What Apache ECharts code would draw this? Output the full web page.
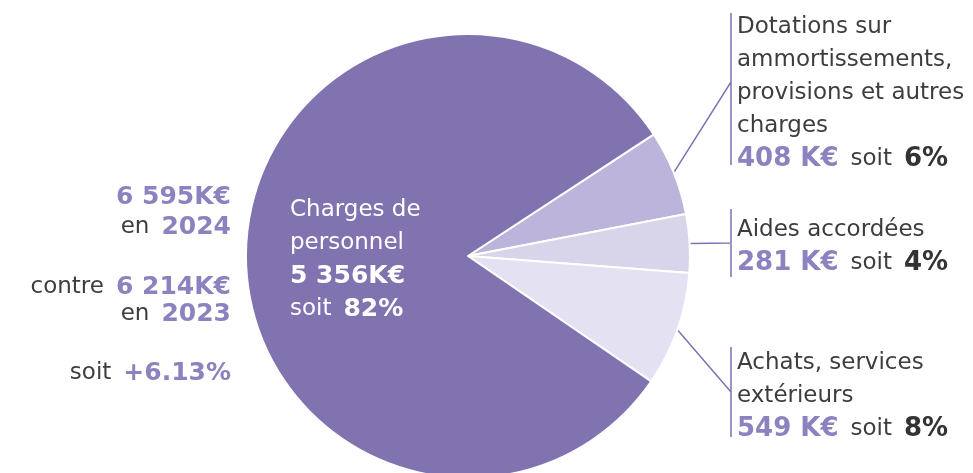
<!DOCTYPE html>
<html>
<head>
<meta charset="utf-8">
<style>
  html, body { margin: 0; padding: 0; background: #fff; }
  #chart { width: 973px; height: 473px; }
</style>
<script src="https://cdn.jsdelivr.net/npm/echarts@6/dist/echarts.min.js"></script>
</head>
<body>
<div id="chart"></div>
<script>
// ---- data ----
const categories = ['Dotations sur ammortissements, provisions et autres charges', 'Aides accordées', 'Achats, services extérieurs', 'Charges de personnel'];
const labelLines = [
  ['Dotations sur', 'ammortissements,', 'provisions et autres', 'charges'],
  ['Aides accordées'],
  ['Achats, services', 'extérieurs'],
  ['Charges de', 'personnel']
];
const values = [408, 281, 549, 5356];          // K€
const valueLabels = ['408 K€', '281 K€', '549 K€', '5 356K€'];
const percentLabels = ['6%', '4%', '8%', '82%'];
const sliceColors = ['#BCB4DA', '#D8D4EA', '#E4E1F2', '#8073B0'];

const total2024 = '6 595K€';
const year2024 = '2024';
const total2023 = '6 214K€';
const year2023 = '2023';
const evolution = '+6.13%';

// ---- styles ----
const FONT = '"DejaVu Sans", sans-serif';
const DARK = '#3d3d3d';
const PURPLE_TXT = '#8C82C0';
const LINE_COL = '#7F72B6';
const LH = 33;
const SP = '\u00a0';

const outsideRich = {
  t: { fontFamily: FONT, fontSize: 23, color: DARK, lineHeight: LH },
  s: { fontFamily: FONT, fontSize: 23, color: DARK, lineHeight: LH, width: 12 },
  v: { fontFamily: FONT, fontSize: 26, fontWeight: 'bold', color: PURPLE_TXT, lineHeight: LH },
  p: { fontFamily: FONT, fontSize: 26, fontWeight: 'bold', color: '#333', lineHeight: LH }
};
const insideRich = {
  t: { fontFamily: FONT, fontSize: 23, color: '#fff', lineHeight: LH },
  s: { fontFamily: FONT, fontSize: 23, color: '#fff', lineHeight: LH, width: 12 },
  v: { fontFamily: FONT, fontSize: 25, fontWeight: 'bold', color: '#fff', lineHeight: LH },
  p: { fontFamily: FONT, fontSize: 25, fontWeight: 'bold', color: '#fff', lineHeight: LH }
};

const labelTops = [10.5, 213.5, 346.5, 193.5];
const labelX = [737, 737, 737, 290];
const barX = 731;
const barSpans = [[13, 165, 82], [209, 277, 243], [347, 437, 392]];

const pieData = values.map((v, i) => {
  const big = i === 3;
  return {
    name: categories[i],
    value: v,
    itemStyle: { color: sliceColors[i] },
    label: { rich: big ? insideRich : outsideRich },
    labelLine: { show: !big }
  };
});

function fmt(params) {
  const i = params.dataIndex;
  const lines = labelLines[i].map(l => '{t|' + l + '}');
  if (i === 3) {
    lines.push('{v|' + valueLabels[i] + '}');
    lines.push('{t|soit}{s| }{p|' + percentLabels[i] + '}');
  } else {
    lines.push('{v|' + valueLabels[i] + '}{s| }{t|soit}{s| }{p|' + percentLabels[i] + '}');
  }
  return lines.join('\n');
}

const chart = echarts.init(document.getElementById('chart'), null, { renderer: 'canvas' });

function textEl(right, cy, parts) {
  return {
    type: 'text',
    x: right, y: cy,
    style: {
      text: parts,
      align: 'right', verticalAlign: 'middle',
      rich: {
        t: { fontFamily: FONT, fontSize: 23, fill: DARK },
        s: { fontFamily: FONT, fontSize: 23, fill: DARK, width: 12 },
        v: { fontFamily: FONT, fontSize: 25, fontWeight: 'bold', fill: PURPLE_TXT }
      }
    }
  };
}

chart.setOption({
  animation: false,
  backgroundColor: '#fff',
  series: [{
    type: 'pie',
    center: [468, 256],
    radius: 222,
    startAngle: 33.2,
    clockwise: true,
    avoidLabelOverlap: false,
    data: pieData,
    itemStyle: { borderColor: '#fff', borderWidth: 2 },
    label: {
      show: true,
      position: 'outside',
      formatter: fmt,
      align: 'left'
    },
    labelLine: {
      show: true,
      lineStyle: { color: LINE_COL, width: 1.5 }
    },
    labelLayout: function (params) {
      const i = params.dataIndex;
      const res = { x: labelX[i], y: labelTops[i], align: 'left', verticalAlign: 'top' };
      if (i !== 3 && params.labelLinePoints) {
        const start = params.labelLinePoints[0];
        const b = barSpans[i];
        res.labelLinePoints = [start, [barX, b[2]], [barX, b[0]], [barX, b[1]]];
      }
      return res;
    }
  }],
  graphic: [
    textEl(231, 197, '{v|' + total2024 + '}'),
    textEl(231, 227, '{t|en}{s| }{v|' + year2024 + '}'),
    textEl(231, 287, '{t|contre}{s| }{v|' + total2023 + '}'),
    textEl(231, 314, '{t|en}{s| }{v|' + year2023 + '}'),
    textEl(231, 373, '{t|soit}{s| }{v|' + evolution + '}')
  ]
});
</script>
</body>
</html>
